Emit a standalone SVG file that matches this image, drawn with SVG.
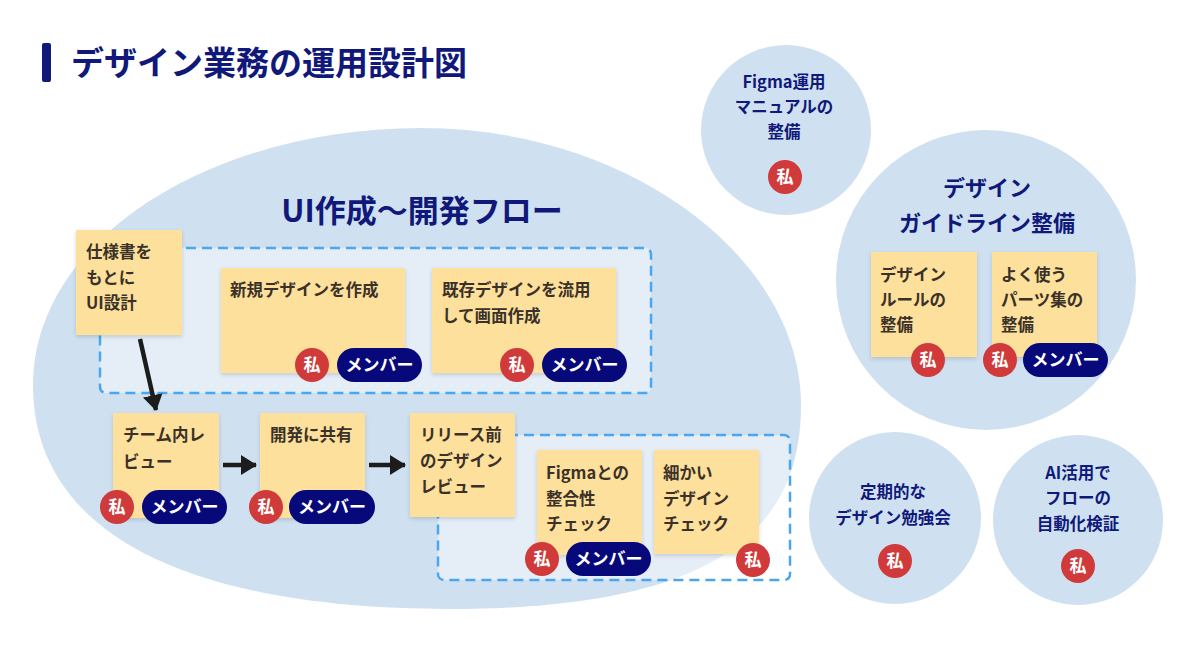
<svg xmlns="http://www.w3.org/2000/svg" width="1200" height="664" viewBox="0 0 1200 664">
<defs>
<style>
.bg{fill:#cfe1f1}
.box{fill:#ffffff;fill-opacity:0.45;stroke:#4aa6ee;stroke-width:2.5;stroke-dasharray:10 6}
.note{fill:#fde09c}
.nt{font-family:"Noto Sans CJK JP","Noto Sans",sans-serif;font-size:16.5px;font-weight:700;fill:#3a3128}
.ct{font-family:"Noto Sans CJK JP","Noto Sans",sans-serif;font-size:16.5px;font-weight:700;fill:#10197a;text-anchor:middle}
.me{fill:#d03a3a}
.mb{fill:#07097a}
.bt{font-family:"Noto Sans CJK JP","Noto Sans",sans-serif;font-size:17px;font-weight:700;fill:#ffffff;text-anchor:middle}
.arr{stroke:#1c1c1c;stroke-width:4.5;fill:none;marker-end:url(#ah)}
</style>
<marker id="ah" viewBox="0 0 16 20" refX="15" refY="10" markerWidth="16" markerHeight="20" markerUnits="userSpaceOnUse" orient="auto">
<path d="M0,0 L16,10 L0,20 Z" fill="#1c1c1c"/>
</marker>
<filter id="sh" x="-10%" y="-10%" width="130%" height="130%">
<feDropShadow dx="0" dy="2" stdDeviation="2" flood-color="#000" flood-opacity="0.15"/>
</filter>
</defs>
<rect width="1200" height="664" fill="#ffffff"/>

<g id="title">
<rect x="42" y="43" width="9" height="39" rx="2" fill="#10197a"/>
<text x="71" y="75" font-family="'Noto Sans CJK JP','Noto Sans',sans-serif" font-size="33" font-weight="700" fill="#10197a">デザイン業務の運用設計図</text>
</g>

<g id="flow-area">
<path class="bg" d="M33,385 C33,240 210,128 421,128 C632,128 801,260 801,405 C801,540 700,609 450,609 C200,609 33,540 33,385 Z"/>
<text x="422" y="222" font-family="'Noto Sans CJK JP','Noto Sans',sans-serif" font-size="31" font-weight="700" fill="#10197a" text-anchor="middle">UI作成〜開発フロー</text>
</g>

<g id="group-create"><rect class="box" x="100" y="248" width="551" height="145" rx="6"/></g>
<g id="group-check"><rect class="box" x="438" y="435" width="352" height="145" rx="6"/></g>

<g id="node-spec">
<rect class="note" x="76" y="230" width="106" height="105" filter="url(#sh)"/>
<text class="nt" x="86" y="258">仕様書を</text>
<text class="nt" x="86" y="284">もとに</text>
<text class="nt" x="86" y="309">UI設計</text>
</g>

<g id="node-new">
<rect class="note" x="221" y="268" width="184" height="105" filter="url(#sh)"/>
<text class="nt" x="230" y="296">新規デザインを作成</text>
<circle class="me" cx="312" cy="365" r="17"/><text class="bt" x="312" y="371">私</text>
<rect class="mb" x="337" y="348" width="85" height="34" rx="17"/><text class="bt" x="379.5" y="371">メンバー</text>
</g>

<g id="node-reuse">
<rect class="note" x="432" y="268" width="184" height="105" filter="url(#sh)"/>
<text class="nt" x="442" y="296">既存デザインを流用</text>
<text class="nt" x="442" y="322">して画面作成</text>
<circle class="me" cx="517" cy="365" r="17"/><text class="bt" x="517" y="371">私</text>
<rect class="mb" x="542" y="348" width="85" height="34" rx="17"/><text class="bt" x="584.5" y="371">メンバー</text>
</g>

<g id="node-team-review">
<rect class="note" x="113" y="413" width="106" height="105" filter="url(#sh)"/>
<text class="nt" x="123" y="441">チーム内レ</text>
<text class="nt" x="123" y="468">ビュー</text>
<circle class="me" cx="117" cy="507" r="17"/><text class="bt" x="117" y="513">私</text>
<rect class="mb" x="142" y="490" width="85" height="34" rx="17"/><text class="bt" x="184.5" y="513">メンバー</text>
</g>

<g id="node-share">
<rect class="note" x="260" y="413" width="105" height="105" filter="url(#sh)"/>
<text class="nt" x="270" y="441">開発に共有</text>
<circle class="me" cx="266" cy="507" r="17"/><text class="bt" x="266" y="513">私</text>
<rect class="mb" x="289" y="490" width="86" height="34" rx="17"/><text class="bt" x="332" y="513">メンバー</text>
</g>

<g id="node-release-review">
<rect class="note" x="410" y="413" width="105" height="104" filter="url(#sh)"/>
<text class="nt" x="420" y="441">リリース前</text>
<text class="nt" x="420" y="467">のデザイン</text>
<text class="nt" x="420" y="493">レビュー</text>
</g>

<g id="node-figma-check">
<rect class="note" x="537" y="450" width="105" height="105" filter="url(#sh)"/>
<text class="nt" x="546" y="479">Figmaとの</text>
<text class="nt" x="546" y="505">整合性</text>
<text class="nt" x="546" y="530">チェック</text>
<circle class="me" cx="542" cy="559" r="17"/><text class="bt" x="542" y="565">私</text>
<rect class="mb" x="566" y="542" width="85" height="34" rx="17"/><text class="bt" x="608.5" y="565">メンバー</text>
</g>

<g id="node-detail-check">
<rect class="note" x="654" y="450" width="105" height="104" filter="url(#sh)"/>
<text class="nt" x="663" y="479">細かい</text>
<text class="nt" x="663" y="505">デザイン</text>
<text class="nt" x="663" y="530">チェック</text>
<circle class="me" cx="753" cy="560" r="17"/><text class="bt" x="753" y="566">私</text>
</g>

<g id="node-figma-manual">
<circle class="bg" cx="786" cy="130" r="85"/>
<text class="ct" x="784" y="88">Figma運用</text>
<text class="ct" x="784" y="113">マニュアルの</text>
<text class="ct" x="784" y="138">整備</text>
<circle class="me" cx="785" cy="177" r="17"/><text class="bt" x="785" y="183">私</text>
</g>

<g id="node-guideline">
<circle class="bg" cx="986" cy="280" r="150"/>
<text class="ct" x="987" y="196" style="font-size:22px">デザイン</text>
<text class="ct" x="987" y="231" style="font-size:22px">ガイドライン整備</text>
<rect class="note" x="871" y="252" width="106" height="105" filter="url(#sh)"/>
<text class="nt" x="880" y="281">デザイン</text>
<text class="nt" x="880" y="306">ルールの</text>
<text class="nt" x="880" y="331">整備</text>
<circle class="me" cx="928" cy="360" r="17"/><text class="bt" x="928" y="366">私</text>
<rect class="note" x="992" y="252" width="105" height="105" filter="url(#sh)"/>
<text class="nt" x="1001" y="281">よく使う</text>
<text class="nt" x="1001" y="306">パーツ集の</text>
<text class="nt" x="1001" y="331">整備</text>
<circle class="me" cx="1000" cy="360" r="17"/><text class="bt" x="1000" y="366">私</text>
<rect class="mb" x="1023" y="343" width="85" height="34" rx="17"/><text class="bt" x="1065.5" y="366">メンバー</text>
</g>

<g id="node-study">
<circle class="bg" cx="895" cy="518" r="86"/>
<text class="ct" x="893" y="498">定期的な</text>
<text class="ct" x="893" y="524">デザイン勉強会</text>
<circle class="me" cx="895" cy="561" r="17"/><text class="bt" x="895" y="567">私</text>
</g>

<g id="node-ai">
<circle class="bg" cx="1078" cy="520" r="85"/>
<text class="ct" x="1078" y="479">AI活用で</text>
<text class="ct" x="1078" y="504">フローの</text>
<text class="ct" x="1078" y="530">自動化検証</text>
<circle class="me" cx="1078" cy="566" r="17"/><text class="bt" x="1078" y="572">私</text>
</g>

<g id="connectors">
<line class="arr" x1="140" y1="339" x2="156" y2="410"/>
<line class="arr" x1="223" y1="465" x2="256" y2="465"/>
<line class="arr" x1="369" y1="465" x2="405" y2="465"/>
</g>
</svg>
